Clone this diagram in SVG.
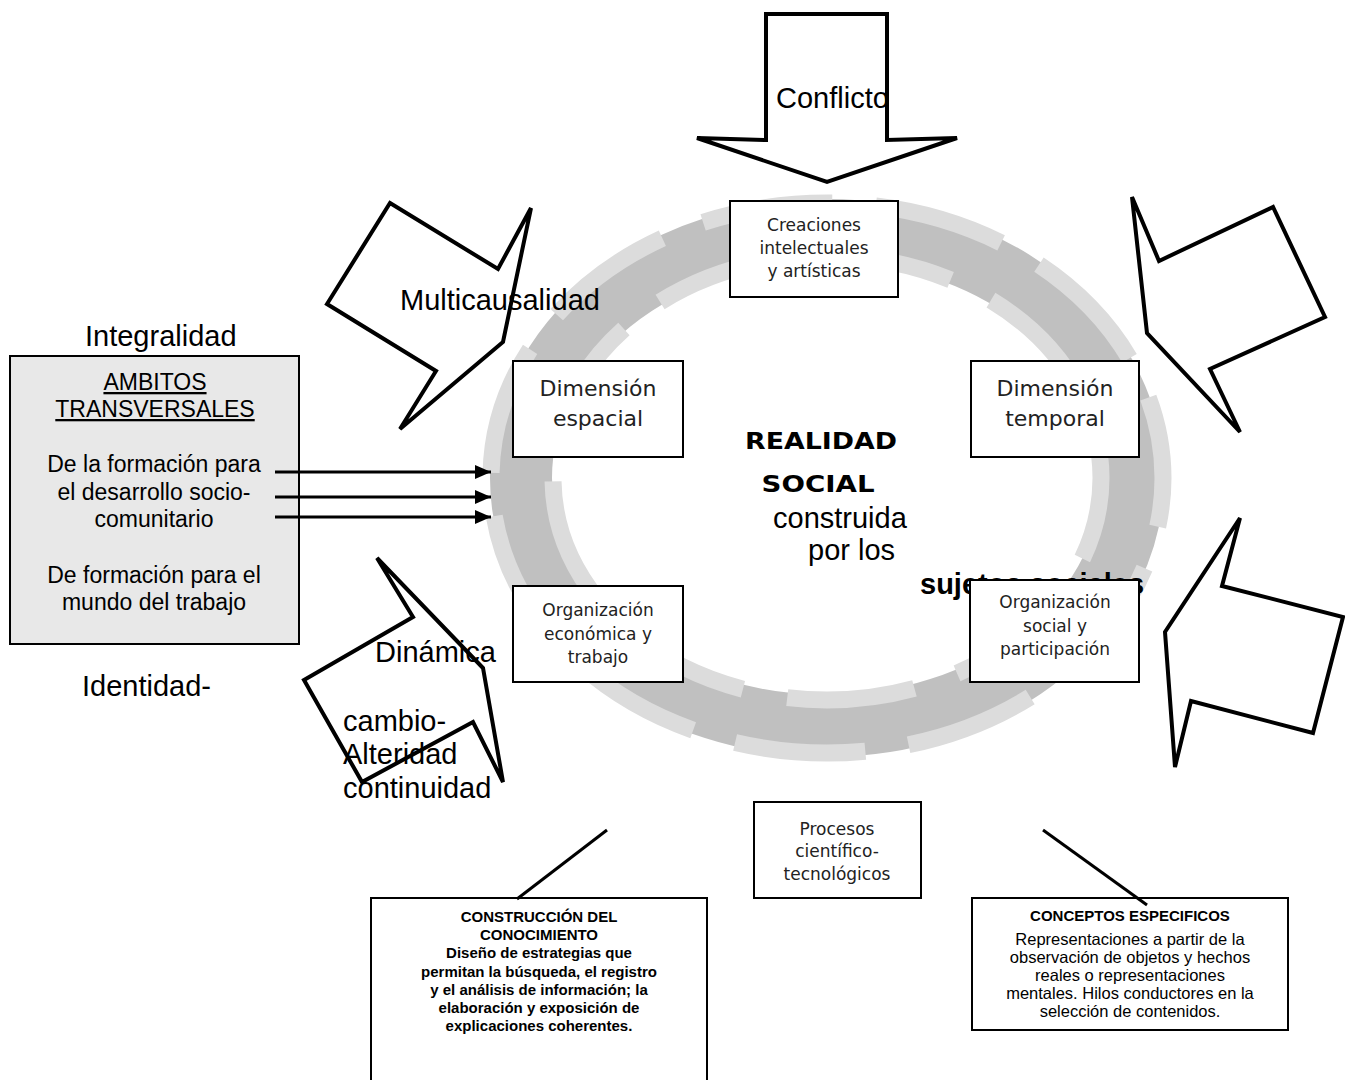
<svg xmlns="http://www.w3.org/2000/svg" width="1345" height="1080" viewBox="0 0 1345 1080">
<style>
.lbl{font-family:"Liberation Sans",Arial,sans-serif;font-size:29px;fill:#000}
.box{fill:#fff;stroke:#000;stroke-width:2}
.g{font-family:"DejaVu Sans",sans-serif;fill:#222;text-anchor:middle}
.big{font-size:22px}
.sm{font-size:17px}
.blk{fill:#fff;stroke:#000;stroke-width:4;stroke-linejoin:miter}
.bt{font-family:"Liberation Sans",Arial,sans-serif;font-size:15px;text-anchor:middle;fill:#000}
.ct{font-family:"Liberation Sans",Arial,sans-serif;font-size:16.5px;text-anchor:middle;fill:#000}
.conn{stroke:#000;stroke-width:3;fill:none}
</style>
<defs>
<marker id="ah" markerWidth="18" markerHeight="14" refX="16" refY="7" orient="auto" markerUnits="userSpaceOnUse"><path d="M0,0 L16,7 L0,14 Z" fill="#000"/></marker>
</defs>
<rect width="1345" height="1080" fill="#fff"/>
<g id="ring">
<ellipse cx="827" cy="478" rx="306" ry="248" fill="none" stroke="#c0c0c0" stroke-width="62"/>
<ellipse cx="827" cy="478" rx="336" ry="275" fill="none" stroke="#dcdcdc" stroke-width="17" pathLength="1100" stroke-dasharray="75 25" stroke-dashoffset="47"/>
<ellipse cx="827" cy="478" rx="274" ry="222" fill="none" stroke="#dcdcdc" stroke-width="17" pathLength="900" stroke-dasharray="74 26" stroke-dashoffset="26"/>
</g>
<g id="conflicto">
<polygon class="blk" points="766,14 887,14 887,140 957,138 827,182 697,138 766,140"/>
<text class="lbl" x="776" y="108">Conflicto</text>
</g>
<g id="multicausalidad">
<polygon class="blk" points="390,203 498,269 531,208 503,342 400,429 436,371 327,304"/>
<text class="lbl" x="400" y="310">Multicausalidad</text>
</g>
<g id="arrow-right-top">
<polygon class="blk" points="1132,197 1159,261 1273,207 1325,317 1210,369 1240,432 1147,333"/>
</g>
<g id="arrow-right-bottom">
<polygon class="blk" points="1240,518 1222,586 1343,617 1313,733 1191,701 1175,767 1165,632"/>
</g>
<g id="dinamica">
<polygon class="blk" points="377,558 413,617 304,680 362,782 473,722 503,782 483,668"/>
<text class="lbl" x="375" y="662">Dinámica</text>
<text class="lbl" x="343" y="731">cambio-</text>
<text class="lbl" x="343" y="764">Alteridad</text>
<text class="lbl" x="343" y="798">continuidad</text>
</g>
<g id="integralidad"><text class="lbl" x="85" y="346">Integralidad</text></g>
<g id="identidad"><text class="lbl" x="82" y="696">Identidad-</text></g>
<g id="ambitos">
<rect x="10" y="356" width="289" height="288" fill="#e8e8e8" stroke="#000" stroke-width="2"/>
<g font-family="Liberation Sans, Arial, sans-serif" font-size="23" text-anchor="middle" fill="#000">
<text x="155" y="390" text-decoration="underline">AMBITOS</text>
<text x="155" y="417" text-decoration="underline">TRANSVERSALES</text>
<text x="154" y="472">De la formación para</text>
<text x="154" y="500">el desarrollo socio-</text>
<text x="154" y="527">comunitario</text>
<text x="154" y="583">De formación para el</text>
<text x="154" y="610">mundo del trabajo</text>
</g>
</g>
<g id="realidad">
<text x="821" y="449" font-family="Comic Sans MS, DejaVu Sans, sans-serif" font-weight="bold" font-size="23" text-anchor="middle" textLength="152" lengthAdjust="spacingAndGlyphs">REALIDAD</text>
<text x="818" y="492" font-family="Comic Sans MS, DejaVu Sans, sans-serif" font-weight="bold" font-size="23" text-anchor="middle" textLength="113" lengthAdjust="spacingAndGlyphs">SOCIAL</text>
<text class="lbl" x="773" y="528">construida</text>
<text class="lbl" x="808" y="560">por los</text>
<text class="lbl" x="920" y="594" font-weight="bold">sujetos sociales</text>
</g>
<g id="creaciones">
<rect class="box" x="730" y="201" width="168" height="96"/>
<text class="g sm" x="814" y="231">Creaciones</text>
<text class="g sm" x="814" y="254">intelectuales</text>
<text class="g sm" x="814" y="277">y artísticas</text>
</g>
<g id="dim-espacial">
<rect class="box" x="513" y="361" width="170" height="96"/>
<text class="g big" x="598" y="396">Dimensión</text>
<text class="g big" x="598" y="426">espacial</text>
</g>
<g id="dim-temporal">
<rect class="box" x="971" y="361" width="168" height="96"/>
<text class="g big" x="1055" y="396">Dimensión</text>
<text class="g big" x="1055" y="426">temporal</text>
</g>
<g id="org-economica">
<rect class="box" x="513" y="586" width="170" height="96"/>
<text class="g sm" x="598" y="616">Organización</text>
<text class="g sm" x="598" y="640">económica y</text>
<text class="g sm" x="598" y="663">trabajo</text>
</g>
<g id="org-social">
<rect class="box" x="970" y="580" width="169" height="102"/>
<text class="g sm" x="1055" y="608">Organización</text>
<text class="g sm" x="1055" y="632">social y</text>
<text class="g sm" x="1055" y="655">participación</text>
</g>
<g id="procesos">
<rect class="box" x="754" y="802" width="167" height="96"/>
<text class="g sm" x="837" y="835">Procesos</text>
<text class="g sm" x="837" y="857">científico-</text>
<text class="g sm" x="837" y="880">tecnológicos</text>
</g>
<g id="construccion">
<rect class="box" x="371" y="898" width="336" height="200"/>
<g font-weight="bold">
<text class="bt" x="539" y="922">CONSTRUCCIÓN DEL</text>
<text class="bt" x="539" y="940">CONOCIMIENTO</text>
<text class="bt" x="539" y="958">Diseño de estrategias que</text>
<text class="bt" x="539" y="977">permitan la búsqueda, el registro</text>
<text class="bt" x="539" y="995">y el análisis de información; la</text>
<text class="bt" x="539" y="1013">elaboración y exposición de</text>
<text class="bt" x="539" y="1031">explicaciones coherentes.</text>
</g>
</g>
<g id="conceptos">
<rect class="box" x="972" y="898" width="316" height="132"/>
<text class="bt" x="1130" y="921" font-weight="bold">CONCEPTOS ESPECIFICOS</text>
<text class="ct" x="1130" y="945">Representaciones a partir de la</text>
<text class="ct" x="1130" y="963">observación de objetos y hechos</text>
<text class="ct" x="1130" y="981">reales o representaciones</text>
<text class="ct" x="1130" y="999">mentales. Hilos conductores en la</text>
<text class="ct" x="1130" y="1017">selección de contenidos.</text>
</g>
<g id="connectors">
<line class="conn" x1="275" y1="472" x2="491" y2="472" marker-end="url(#ah)"/>
<line class="conn" x1="275" y1="497" x2="491" y2="497" marker-end="url(#ah)"/>
<line class="conn" x1="275" y1="517" x2="491" y2="517" marker-end="url(#ah)"/>
<line class="conn" x1="607" y1="830" x2="517" y2="899"/>
<line class="conn" x1="1043" y1="830" x2="1147" y2="905"/>
</g>
</svg>
